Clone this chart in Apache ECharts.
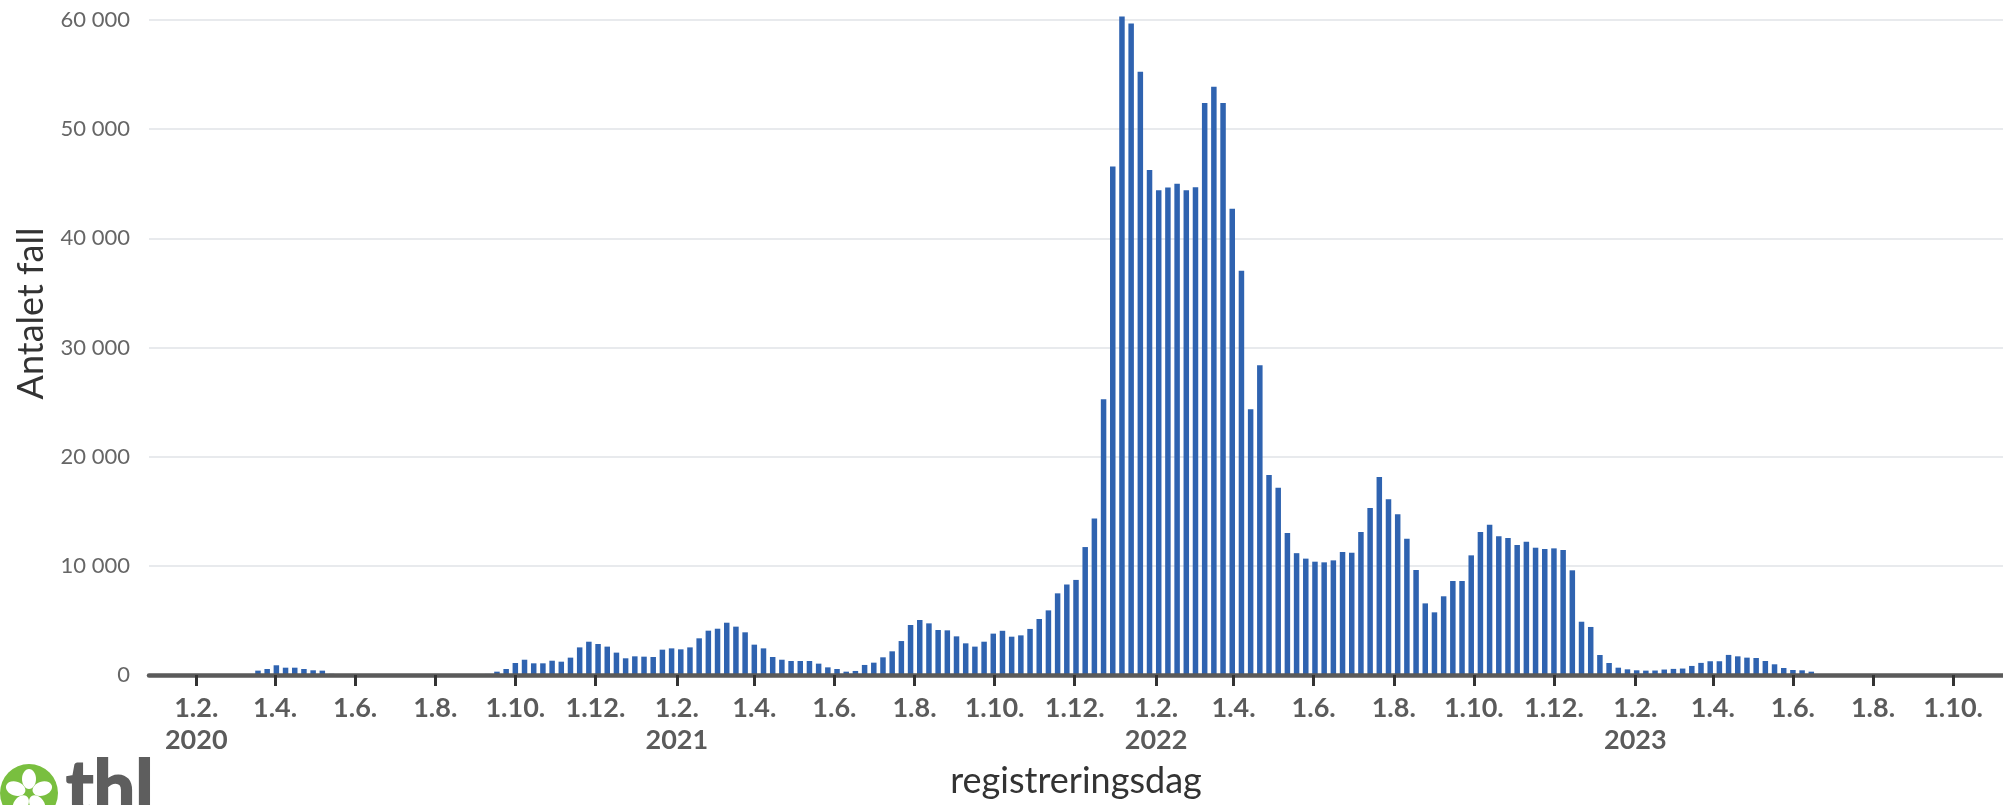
<!DOCTYPE html>
<html>
<head>
<meta charset="utf-8">
<script src="https://cdn.jsdelivr.net/npm/echarts@6/dist/echarts.min.js"></script>
<style>
  html, body { margin: 0; padding: 0; background: #ffffff; }
  #chart { width: 2003px; height: 805px; }
</style>
</head>
<body>
<div id="chart"></div>
<script>
// ---- Data (weekly registered cases) ----
const firstWeek = '2020-03-19';   // date of the first weekly bar
const weeklyCases = [
  400, 550, 890, 670, 670, 550, 430, 400,
  110, 80, 60, 40, 30, 20, 15, 15, 20, 25, 30, 40, 50, 60, 70, 80, 90, 100,
  305, 550, 1100, 1400, 1070, 1070, 1310, 1220, 1590, 2530, 3050, 2840, 2600, 2050,
  1530, 1710, 1680, 1650, 2320, 2440, 2350, 2530, 3360, 4060, 4240, 4790, 4430, 3910,
  2780, 2440, 1650, 1400, 1280, 1280, 1280, 1040, 700, 550, 305, 370, 920, 1130,
  1620, 2170, 3110, 4580, 5040, 4730, 4120, 4090, 3540, 2900, 2600, 3050, 3790, 4050,
  3510, 3630, 4220, 5130, 5920, 7480, 8290, 8710, 11720, 14330, 25270, 46590, 60330, 59680,
  55250, 46260, 44410, 44650, 45010, 44410, 44690, 52390, 53880, 52390, 42720, 37040,
  24350, 28370, 18310, 17160, 13010, 11160, 10660, 10380, 10320, 10500, 11270, 11200,
  13100, 15300, 18130, 16090, 14720, 12490, 9620, 6560, 5740, 7210, 8610, 8610,
  10960, 13100, 13770, 12700, 12550, 11910, 12210, 11660, 11540, 11600, 11450, 9590,
  4880, 4400, 1830, 1100, 670, 520, 430, 400, 410, 500, 560, 590, 830, 1110,
  1260, 1260, 1840, 1710, 1590, 1560, 1280, 980, 640, 460, 430, 305
];
const xTickDates = [
  '2020-02-01', '2020-04-01', '2020-06-01', '2020-08-01', '2020-10-01', '2020-12-01',
  '2021-02-01', '2021-04-01', '2021-06-01', '2021-08-01', '2021-10-01', '2021-12-01',
  '2022-02-01', '2022-04-01', '2022-06-01', '2022-08-01', '2022-10-01', '2022-12-01',
  '2023-02-01', '2023-04-01', '2023-06-01', '2023-08-01', '2023-10-01'
];
const yTicks = [0, 10000, 20000, 30000, 40000, 50000, 60000];
const xAxisMin = '2019-12-27';
const xAxisMax = '2023-11-08';
const yAxisTitle = 'Antalet fall';
const xAxisTitle = 'registreringsdag';

// ---- helpers ----
function parseYMD(s) {
  const p = s.split('-').map(Number);
  return new Date(p[0], p[1] - 1, p[2]);
}
const start = parseYMD(firstWeek);
const seriesData = weeklyCases.map((v, i) => {
  const d = new Date(start.getFullYear(), start.getMonth(), start.getDate() + 7 * i);
  return [d.getTime(), v];
});
const tickValues = xTickDates.map(s => parseYMD(s).getTime());
function fmtThousands(v) {
  return String(v).replace(/\B(?=(\d{3})+(?!\d))/g, ' ');
}
function fmtDate(ts) {
  const d = new Date(ts);
  const m = d.getMonth() + 1;
  let s = d.getDate() + '.' + m + '.';
  if (m === 2) s += '\n' + d.getFullYear();
  return s;
}

const chart = echarts.init(document.getElementById('chart'), null, { renderer: 'canvas' });
const option = {
  backgroundColor: '#ffffff',
  animation: false,
  grid: { left: 149, right: 0, top: 20, bottom: 130, containLabel: false, outerBoundsMode: 'none' },
  xAxis: {
    type: 'value',
    scale: true,
    z: 5,
    min: parseYMD(xAxisMin).getTime(),
    max: parseYMD(xAxisMax).getTime(),
    name: xAxisTitle,
    nameLocation: 'middle',
    nameGap: 88,
    nameTextStyle: { fontFamily: 'Lato', fontWeight: 'normal', fontSize: 36, color: '#333333' },
    axisLine: { show: true, lineStyle: { color: '#5a5a5a', width: 4.5 } },
    axisTick: { show: true, customValues: tickValues, length: 11, lineStyle: { color: '#333333', width: 3 } },
    axisLabel: {
      customValues: tickValues,
      formatter: fmtDate,
      fontFamily: 'Lato', fontWeight: 'bold', fontSize: 27, color: '#5b5b5b',
      lineHeight: 32, margin: 17
    },
    splitLine: { show: false }
  },
  yAxis: {
    type: 'value',
    z: 0,
    min: yTicks[0],
    max: yTicks[yTicks.length - 1],
    interval: yTicks[1] - yTicks[0],
    name: yAxisTitle,
    nameLocation: 'middle',
    nameRotate: 90,
    nameGap: 99,
    nameTextStyle: { fontFamily: 'Lato', fontWeight: 'normal', fontSize: 36, color: '#333333', padding: [0, 0, 0, 68] },
    axisLine: { show: false },
    axisTick: { show: false },
    axisLabel: {
      formatter: fmtThousands,
      fontFamily: 'Lato', fontSize: 22, color: '#666666', margin: 19
    },
    splitLine: { show: true, lineStyle: { color: '#e0e3e7', width: 1.5 } }
  },
  series: [{
    type: 'bar',
    data: seriesData,
    barWidth: 5.5,
    clip: false,
    itemStyle: { color: '#2f63b0' },
    z: 2
  }],
  graphic: [{
    type: 'group',
    left: 0, top: 752,
    children: [
      { type: 'circle', shape: { cx: 18, cy: 32, r: 29 }, style: { fill: '#79bf3f' } },
      { type: 'ellipse', shape: { cx: 18, cy: 18, rx: 7, ry: 10 }, style: { fill: '#ffffff' } },
      { type: 'ellipse', shape: { cx: 18, cy: 18, rx: 7, ry: 10 }, rotation: -1.2566, originX: 18, originY: 32, style: { fill: '#ffffff' } },
      { type: 'ellipse', shape: { cx: 18, cy: 18, rx: 7, ry: 10 }, rotation: -2.5133, originX: 18, originY: 32, style: { fill: '#ffffff' } },
      { type: 'ellipse', shape: { cx: 18, cy: 18, rx: 7, ry: 10 }, rotation: 1.2566, originX: 18, originY: 32, style: { fill: '#ffffff' } },
      { type: 'ellipse', shape: { cx: 18, cy: 18, rx: 7, ry: 10 }, rotation: 2.5133, originX: 18, originY: 32, style: { fill: '#ffffff' } },
      { type: 'text', x: 55, y: -8, style: { text: 'thl', fontFamily: 'Lato', fontWeight: 'bold', fontSize: 74, fill: '#5e5e5e', stroke: '#5e5e5e', lineWidth: 2, textVerticalAlign: 'top' } }
    ]
  }]
};
chart.setOption(option);
</script>
</body>
</html>
